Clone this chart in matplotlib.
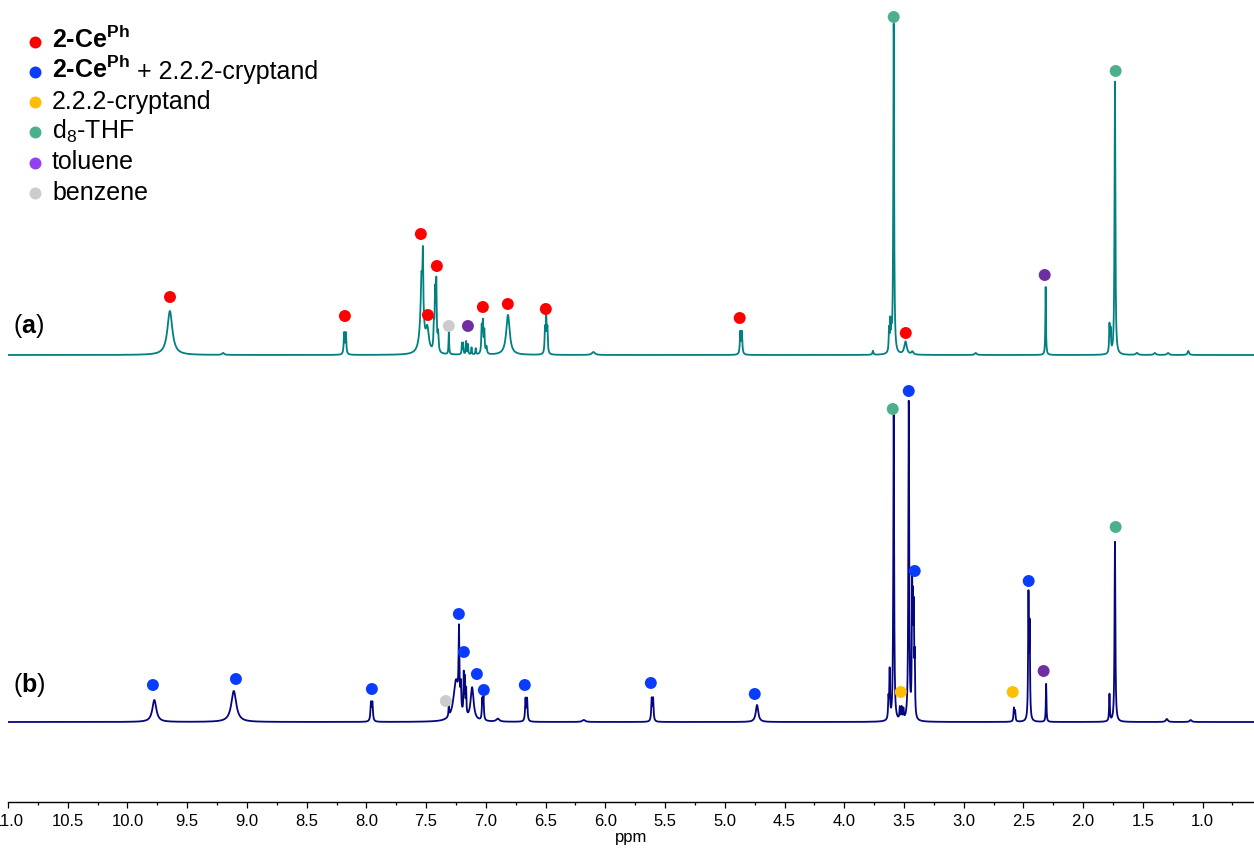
import numpy as np
import matplotlib
matplotlib.use("Agg")
import matplotlib.pyplot as plt
from matplotlib.ticker import FixedLocator, FuncFormatter

plt.rcParams['font.family'] = ['Liberation Sans', 'DejaVu Sans']
plt.rcParams['mathtext.fontset'] = 'custom'
plt.rcParams['mathtext.rm'] = 'Liberation Sans'
plt.rcParams['mathtext.it'] = 'Liberation Sans:italic'
plt.rcParams['mathtext.bf'] = 'Liberation Sans:bold'

W, H = 1254, 852

# ---------------- spectrum (a): 2-Ce(Ph) in d8-THF ----------------
a_ppm = [9.645, 9.20, 8.186, 8.172, 7.535, 7.540, 7.527, 7.490, 7.435, 7.425,
         7.415, 7.400, 7.310, 7.200, 7.190, 7.165, 7.150, 7.120, 7.085, 7.035,
         7.025, 7.013, 6.995, 6.815, 6.505, 6.495, 6.485, 6.10, 4.870, 4.857,
         3.76, 3.625, 3.615, 3.605, 3.586, 3.487, 3.43, 2.90, 2.314, 1.780,
         1.770, 1.734, 1.55, 1.40, 1.29, 1.12]
a_height = [44, 2, 21, 21, 70, 15, 50, 22, 25, 55,
            66, 18, 22, 11, 11, 13, 10, 7, 6, 26,
            30, 22, 7, 40, 24, 34, 24, 3, 22, 22,
            4, 22, 28, 18, 330, 13, 3, 2, 68, 28,
            22, 273, 2, 2, 2, 4]
a_width = [0.05, 0.02, 0.009, 0.009, 0.03, 0.006, 0.006, 0.03, 0.008, 0.008,
           0.008, 0.01, 0.006, 0.006, 0.006, 0.006, 0.006, 0.006, 0.006, 0.008,
           0.008, 0.008, 0.01, 0.035, 0.008, 0.008, 0.008, 0.03, 0.009, 0.009,
           0.01, 0.007, 0.007, 0.007, 0.008, 0.025, 0.02, 0.02, 0.006, 0.007,
           0.007, 0.008, 0.02, 0.02, 0.02, 0.015]

# ---------------- spectrum (b): 2-Ce(Ph) + 2.2.2-cryptand ----------------
b_ppm = [9.775, 9.110, 7.962, 7.950, 7.310, 7.250, 7.225, 7.210, 7.185, 7.175,
         7.165, 7.115, 7.030, 7.020, 6.90, 6.668, 6.655, 6.18, 5.612, 5.600,
         4.730, 3.630, 3.620, 3.586, 3.535, 3.520, 3.505, 3.460, 3.432, 3.425,
         3.418, 3.410, 2.580, 2.570, 2.458, 2.448, 2.310, 1.780, 1.734, 1.30,
         1.10]
b_height = [22, 31, 18, 18, 12, 40, 75, 25, 40, 35,
            25, 33, 20, 22, 3, 22, 22, 2, 22, 22,
            17, 20, 48, 306, 12, 12, 10, 318, 125, 95,
            95, 55, 13, 10, 122, 90, 38, 27, 180, 3,
            2]
b_width = [0.04, 0.05, 0.01, 0.01, 0.006, 0.05, 0.008, 0.008, 0.006, 0.006,
           0.006, 0.03, 0.008, 0.008, 0.03, 0.009, 0.009, 0.03, 0.009, 0.009,
           0.025, 0.007, 0.007, 0.008, 0.007, 0.007, 0.007, 0.008, 0.006, 0.006,
           0.006, 0.006, 0.008, 0.008, 0.007, 0.007, 0.006, 0.007, 0.008, 0.02,
           0.02]

# ---------------- assignment markers ----------------
# (ppm, height above the axis line) per species
a_cep_ppm = [9.644, 8.180, 7.544, 7.410, 7.485, 7.025, 6.816, 6.498, 4.875, 3.485]
a_cep_y = [505, 486, 568, 536, 487, 495, 498, 493, 484, 469]
a_benz_ppm = [7.310]
a_benz_y = [476]
a_tol_ppm = [7.150, 2.322]
a_tol_y = [476, 527]
a_thf_ppm = [3.586, 1.728]
a_thf_y = [785, 731]

b_cep_ppm = [9.787, 9.092, 7.954, 7.226, 7.184, 7.075, 7.017, 6.674, 5.619, 4.749,
             3.460, 3.410, 2.456]
b_cep_y = [117, 123, 113, 188, 150, 128, 112, 117, 119, 108,
           411, 231, 221]
b_benz_ppm = [7.335]
b_benz_y = [101]
b_crypt_ppm = [3.527, 2.590]
b_crypt_y = [110, 110]
b_tol_ppm = [2.331]
b_tol_y = [131]
b_thf_ppm = [3.594, 1.728]
b_thf_y = [393, 275]

major_ticks = [11.0, 10.5, 10.0, 9.5, 9.0, 8.5, 8.0, 7.5, 7.0, 6.5, 6.0,
               5.5, 5.0, 4.5, 4.0, 3.5, 3.0, 2.5, 2.0, 1.5, 1.0]

legend_labels = ["2-Ce$^{\\mathbf{Ph}}$", " + 2.2.2-cryptand", "2.2.2-cryptand",
                 "d$_8$-THF", "toluene", "benzene"]

OFFSET_A = 447
OFFSET_B = 80

RED = '#ff0000'
BLUE = '#0a3cff'
YELLOW = '#ffbf00'
THF = '#4caf8e'
TOL = '#702fa0'
TOL_KEY = '#9440f0'
GREY = '#cccccc'
LINE_A = '#008080'
LINE_B = '#06067f'

ppm = np.linspace(11.0, 0.5, 42001)


def lorentz_sum(centres, heights, widths):
    y = np.zeros_like(ppm)
    for c, h, w in zip(centres, heights, widths):
        y += h / (1.0 + ((ppm - c) / (w / 2.0)) ** 2)
    return y


fig = plt.figure(figsize=(W / 100, H / 100), dpi=100)
ax = fig.add_axes([8 / W, 50 / H, 1 - 8 / W, 802 / H])
ax.set_xlim(11.0, 0.57)
ax.set_ylim(0, 802)

ax.plot(ppm, OFFSET_A + lorentz_sum(a_ppm, a_height, a_width), color=LINE_A, lw=1.3, zorder=2)
ax.plot(ppm, OFFSET_B + lorentz_sum(b_ppm, b_height, b_width), color=LINE_B, lw=1.3, zorder=2)

S = 74
for xs, ys, col in [(a_cep_ppm, a_cep_y, RED), (a_benz_ppm, a_benz_y, GREY),
                    (a_tol_ppm, a_tol_y, TOL), (a_thf_ppm, a_thf_y, THF),
                    (b_cep_ppm, b_cep_y, BLUE), (b_benz_ppm, b_benz_y, GREY),
                    (b_crypt_ppm, b_crypt_y, YELLOW), (b_tol_ppm, b_tol_y, TOL),
                    (b_thf_ppm, b_thf_y, THF)]:
    ax.scatter(xs, ys, s=S, color=col, edgecolors='none', zorder=3, clip_on=False)

for side in ['left', 'right', 'top']:
    ax.spines[side].set_visible(False)
ax.spines['bottom'].set_linewidth(1.0)
ax.set_yticks([])
ax.xaxis.set_major_locator(FixedLocator(major_ticks))
ax.xaxis.set_minor_locator(FixedLocator(np.arange(10.75, 0.5, -0.5)))
ax.xaxis.set_major_formatter(FuncFormatter(lambda v, p: f"{v:.1f}"))
ax.tick_params(axis='x', which='major', direction='out', length=4.5, width=0.9,
               labelsize=12, pad=4)
ax.tick_params(axis='x', which='minor', direction='out', length=2.3, width=0.9)
ax.set_xlabel('ppm', fontsize=12, labelpad=1)
ax.patch.set_visible(False)


def fxy(x, y):
    return x / W, 1 - y / H


# legend
FS = 18
key_cols = [RED, BLUE, YELLOW, THF, TOL_KEY, GREY]
base_y = [48.3, 78.5, 108.8, 139.0, 169.3, 199.6]
for col, by in zip(key_cols, base_y):
    fig.add_artist(plt.Line2D([35 / W], [1 - (by - 6.7) / H], marker='o', ms=8.6,
                              color=col, mec='none', transform=fig.transFigure))
fig.text(*fxy(52, base_y[0]), legend_labels[0], fontsize=FS, fontweight='bold',
         va='baseline', ha='left')
t2 = fig.text(*fxy(52, base_y[1]), legend_labels[0], fontsize=FS, fontweight='bold',
              va='baseline', ha='left')
renderer = fig.canvas.get_renderer()
bb = t2.get_window_extent(renderer)
fig.text(bb.x1 / W, 1 - base_y[1] / H, legend_labels[1], fontsize=FS,
         va='baseline', ha='left')
for lab, by in zip(legend_labels[2:], base_y[2:]):
    fig.text(*fxy(52, by), lab, fontsize=FS, va='baseline', ha='left')

# trace labels
fig.text(*fxy(13, 333), "($\\mathbf{a}$)", fontsize=FS, va='baseline', ha='left')
fig.text(*fxy(13, 692), "($\\mathbf{b}$)", fontsize=FS, va='baseline', ha='left')

fig.savefig('out.png', dpi=100)
